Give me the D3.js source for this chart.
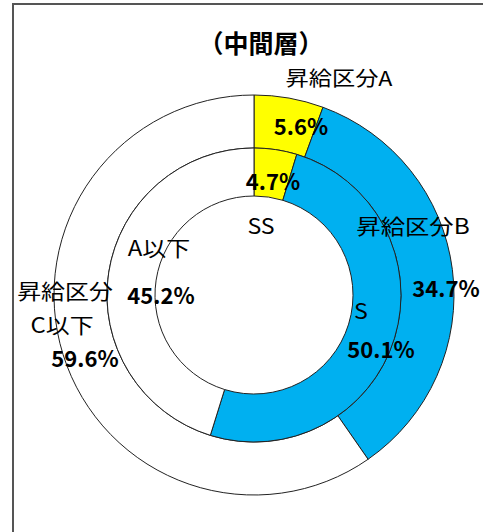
<!DOCTYPE html>
<html>
<head>
<meta charset="utf-8">
<script src="https://cdn.jsdelivr.net/npm/d3@7"></script>
<style>
  body { margin: 0; background: #fff; }
  text { font-family: "Noto Sans CJK JP", "Noto Sans", sans-serif; fill: #000; }
</style>
</head>
<body>
<div id="chart"></div>
<script>
// data
var outerCats = ["昇給区分A", "昇給区分B", "昇給区分C以下"];
var outerVals = [5.6, 34.7, 59.6];
var innerCats = ["SS", "S", "A以下"];
var innerVals = [4.7, 50.1, 45.2];
var sliceColors = ["#ffff00", "#00b0f0", "#ffffff"];

var width = 483, height = 532;
var cx = 254, cy = 295;

var svg = d3.select("#chart").append("svg")
  .attr("width", width)
  .attr("height", height);

// frame (left + top edge of the chart area)
svg.append("path")
  .attr("d", "M13,532 L13,4 L483,4")
  .attr("fill", "none")
  .attr("stroke", "#555")
  .attr("stroke-width", 2);

var pie = d3.pie().sort(null).value(function(d) { return d; });

var outerArc = d3.arc().innerRadius(147).outerRadius(200);
var innerArc = d3.arc().innerRadius(99).outerRadius(147);

var g = svg.append("g").attr("transform", "translate(" + cx + "," + cy + ")");

g.selectAll(".outer")
  .data(pie(outerVals))
  .enter().append("path")
  .attr("class", "outer")
  .attr("d", outerArc)
  .attr("fill", function(d, i) { return sliceColors[i]; })
  .attr("stroke", "#222")
  .attr("stroke-width", 1);

g.selectAll(".inner")
  .data(pie(innerVals))
  .enter().append("path")
  .attr("class", "inner")
  .attr("d", innerArc)
  .attr("fill", function(d, i) { return sliceColors[i]; })
  .attr("stroke", "#222")
  .attr("stroke-width", 1);

// title
svg.append("text")
  .attr("x", 261).attr("y", 53)
  .attr("text-anchor", "middle")
  .style("font-size", "25px")
  .style("font-weight", "bold")
  .text("（中間層）");

// labels, positioned relative to the centre like the hand-placed Excel labels
// (the original text is a little stretched horizontally, hence sx)
var labels = [
  { t: "昇給区分A", dx: 85, dy: -209, size: 20, bold: false, sx: 1.16 },
  { t: outerVals[0].toFixed(1) + "%", dx: 47, dy: -160, size: 22, bold: true, sx: 1 },
  { t: innerVals[0].toFixed(1) + "%", dx: 19, dy: -105, size: 22, bold: true, sx: 1 },
  { t: innerCats[0], dx: 7, dy: -61, size: 21, bold: false, sx: 1.1 },
  { t: "昇給区分B", dx: 159, dy: -61, size: 21, bold: false, sx: 1.16 },
  { t: outerVals[1].toFixed(1) + "%", dx: 192, dy: 2, size: 22, bold: true, sx: 1 },
  { t: innerCats[1], dx: 107, dy: 24, size: 21, bold: false, sx: 1.1 },
  { t: innerVals[1].toFixed(1) + "%", dx: 127, dy: 63, size: 22, bold: true, sx: 1 },
  { t: innerCats[2], dx: -95, dy: -39, size: 21, bold: false, sx: 1.14 },
  { t: innerVals[2].toFixed(1) + "%", dx: -93, dy: 9, size: 22, bold: true, sx: 1 },
  { t: "昇給区分", dx: -189, dy: 4, size: 21, bold: false, sx: 1.14 },
  { t: "C以下", dx: -192, dy: 38, size: 21, bold: false, sx: 1.14 },
  { t: outerVals[2].toFixed(1) + "%", dx: -169, dy: 72, size: 22, bold: true, sx: 1 }
];

g.selectAll(".lbl")
  .data(labels)
  .enter().append("text")
  .attr("class", "lbl")
  .attr("transform", function(d) {
    return "translate(" + d.dx + "," + d.dy + ") scale(" + d.sx + ",1)";
  })
  .attr("text-anchor", "middle")
  .style("font-size", function(d) { return d.size + "px"; })
  .style("font-weight", function(d) { return d.bold ? "bold" : "normal"; })
  .text(function(d) { return d.t; });
</script>
</body>
</html>
